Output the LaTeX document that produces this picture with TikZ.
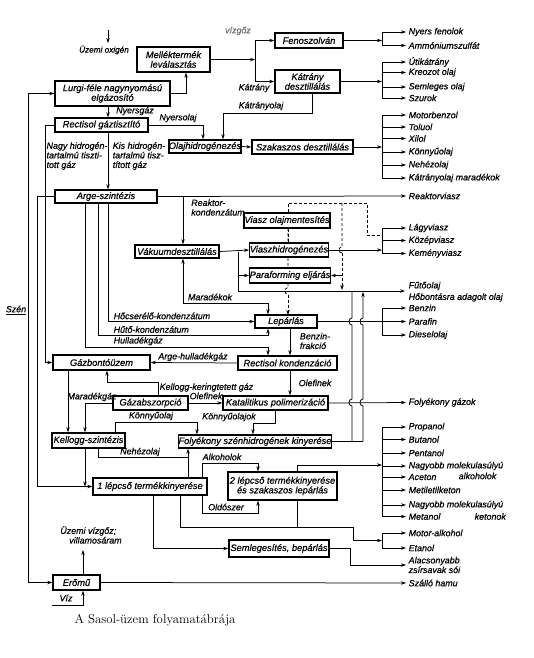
\documentclass[tikz,border=0pt]{standalone}
\usepackage{fontspec}
\newfontfamily\dfont{Liberation Sans}[FakeBold=0.6]
\usetikzlibrary{arrows.meta,calc}
\newcommand{\bxf}{\dfont\itshape\fontsize{9.3}{9.6}\selectfont}
\newcommand{\lbf}{\dfont\itshape\fontsize{8.9}{9.6}\selectfont}
\tikzset{
 box/.style={draw, line width=1.4pt, fill=white, inner sep=0pt, font=\bxf, align=center},
 lab/.style={font=\lbf, inner sep=0.5pt, align=left},
 outl/.style={lab, anchor=west},
 ln/.style={line width=0.75pt},
 arr/.style={ln, -{Stealth[length=5pt,width=3.4pt]}},
 dsh/.style={ln, dash pattern=on 3pt off 2pt},
 darr/.style={dsh, -{Stealth[length=5pt,width=3.4pt]}},
}
\begin{document}
\begin{tikzpicture}[x=1pt,y=-1pt]
\useasboundingbox (0,0) rectangle (534,658);
% ---------- connectors drawn first (boxes cover them) ----------
\draw[dsh] (288,228) -- (288,287.5) .. controls (284,287.5) and (284,294.5) .. (288,294.5);
\draw[darr] (288,294.5) -- (288,315);
% ---------- boxes ----------
\node[box, minimum width=73, minimum height=25] (mell) at (173.5,59.5) {Melléktermék\\leválasztás};
\node[box, minimum width=115, minimum height=25] (lurgi) at (112.5,93.5) {Lurgi-féle nagynyomású\\elgázosító};
\node[box, minimum width=93, minimum height=14] (rect) at (101.5,125) {Rectisol gáztisztító};
\node[box, minimum width=68, minimum height=15] (feno) at (309,40.5) {Fenoszolván};
\node[box, minimum width=65, minimum height=23] (katr) at (307.5,81.5) {Kátrány\\desztillálás};
\node[box, minimum width=70, minimum height=13] (olaj) at (205,146.5) {Olajhidrogénezés};
\node[box, minimum width=101, minimum height=14] (szak) at (302.5,147) {Szakaszos desztillálás};
\node[box, minimum width=102, minimum height=13] (arge) at (106,196.5) {Arge-szintézis};
\node[box, minimum width=84, minimum height=13] (vak) at (177,251.5) {Vákuumdesztillálás};
\node[box, minimum width=86, minimum height=15] (vom) at (287,220.5) {Viasz olajmentesítés};
\node[box, minimum width=78, minimum height=14] (vhid) at (289,250) {Viaszhidrogénezés};
\node[box, minimum width=80, minimum height=15] (para) at (290,275.5) {Paraforming eljárás};
\node[box, minimum width=62, minimum height=13] (lep) at (286,321.5) {Lepárlás};
\node[box, minimum width=97, minimum height=15] (gazb) at (101.5,362.5) {Gázbontóüzem};
\node[box, minimum width=99, minimum height=14] (rkond) at (287.5,363) {Rectisol kondenzáció};
\node[box, minimum width=75, minimum height=14] (gabs) at (150.5,403) {Gázabszorpció};
\node[box, minimum width=105, minimum height=14] (katal) at (275.5,403) {Katalitikus polimerizáció};
\node[box, minimum width=73, minimum height=15] (kell) at (88.5,440.5) {Kellogg-szintézis};
\node[box, minimum width=150, minimum height=13] (foly) at (255,441.5) {Folyékony szénhidrogének kinyerése};
\node[box, minimum width=114, minimum height=17] (l1) at (150,486.5) {1 lépcső termékkinyerése};
\node[box, minimum width=109, minimum height=28] (l2) at (282.5,486) {2 lépcső termékkinyerése\\és szakaszos lepárlás};
\node[box, minimum width=100, minimum height=17] (seml) at (279,548.5) {Semlegesítés, bepárlás};
\node[box, minimum width=47, minimum height=15] (erom) at (76.5,582.5) {Erőmű};
% ---------- top inputs ----------
\node[lab, font=\dfont\itshape\fontsize{8.2}{9}\selectfont] (oxi) at (104,50) {Üzemi oxigén};
\coordinate (oxt) at (108,30);
\draw[arr] (oxt) -- (108,43);
\node[lab, text=black!55] (vg) at (238,31) {vízgőz};
% lurgi -> mell
\draw[arr] (lurgi.east) -| ([xshift=12.5]mell.south);
% mell -> feno / katr
\coordinate (b1) at (255,59.5);
\draw[arr] (mell.east) -- (b1);
\draw[arr] (b1) |- (feno.west);
\draw[arr] (b1) |- (katr.west);
\node[lab] (lkat) at (254,88) {Kátrány};
% outputs feno
\coordinate (f1) at (382,40.5);
\draw[arr] (feno.east) -- (f1);
\node[outl] (o11) at (408,32) {Nyers fenolok};
\node[outl] (o12) at (408,45.5) {Ammóniumszulfát};
\draw[ln] (o11.west -| f1) -- (o12.west -| f1);
\draw[arr] (o11.west -| f1) -- ([xshift=-2]o11.west);
\draw[arr] (o12.west -| f1) -- ([xshift=-2]o12.west);
% outputs katr
\coordinate (f2) at (382,81.5);
\draw[arr] (katr.east) -- (f2);
\node[outl] (o21) at (408,62) {Útikátrány};
\node[outl] (o22) at (408,72.5) {Kreozot olaj};
\node[outl] (o23) at (408,87) {Semleges olaj};
\node[outl] (o24) at (408,98) {Szurok};
\draw[ln] (o21.west -| f2) -- (o24.west -| f2);
\foreach \o in {o21,o22,o23,o24} \draw[arr] (\o.west -| f2) -- ([xshift=-2]\o.west);
% katranyolaj
\draw[arr] ([xshift=4.5]katr.south) |- (223,113) -- ([xshift=18]olaj.north);
\node[lab] (lko) at (261,106) {Kátrányolaj};
% nyersolaj
\draw[arr] (rect.east) -| ([xshift=-2]olaj.north);
\node[lab] (lno) at (178,118) {Nyersolaj};
\draw[arr] (olaj.east) -- (szak.west);
% outputs szak
\coordinate (f3) at (382,147);
\draw[arr] (szak.east) -- (f3);
\node[outl] (o31) at (408,115) {Motorbenzol};
\node[outl] (o32) at (408,127) {Toluol};
\node[outl] (o33) at (408,138.5) {Xilol};
\node[outl] (o34) at (408,152) {Könnyűolaj};
\node[outl] (o35) at (408,165) {Nehézolaj};
\node[outl] (o36) at (408,178) {Kátrányolaj maradékok};
\draw[ln] (o31.west -| f3) -- (o36.west -| f3);
\foreach \o in {o31,o32,o33,o34,o35,o36} \draw[arr] (\o.west -| f3) -- ([xshift=-2]\o.west);
% lurgi -> rectisol
\draw[arr] ([xshift=-4.5]lurgi.south) -- ([xshift=6.5]rect.north);
\node[lab] (lng) at (135,111) {Nyersgáz};
% szen
\coordinate (sz1) at (28,93.5);
\coordinate (sz2) at (28,582.5);
\draw[arr] (sz1) -- (lurgi.west);
\draw[ln] (sz1) -- (sz2);
\draw[arr] (sz2) -- (erom.west);
\node[lab] (lsz) at (16,310) {\underline{Szén}};
% rectisol -> gazbonto
\draw[arr] (rect.west) -| (45,362.5) -- (gazb.west);
% rectisol -> arge
\draw[arr] ([xshift=6.5]rect.south) -- ([xshift=2]arge.north);
\node[lab, align=left] (lnh) at (77,156) {Nagy hidrogén-\\tartalmú tiszti-\\tott gáz};
\node[lab, align=left] (lkh) at (139,156) {Kis hidrogén-\\tartalmú tisz-\\tított gáz};
% reaktorviasz
\node[outl] (orv) at (408,196) {Reaktorviasz};
\draw[arr] (arge.east) -- ([xshift=-2]orv.west);
\draw[arr] (183,196) -- ([xshift=6]vak.north);
\node[lab] (lrk) at (218,207.5) {Reaktor-\\kondenzátum};
% arge -> 1 lepcso
\draw[arr] (arge.west) -| (37,486.5) -- (l1.west);
% arge condensates
\draw[arr] ([xshift=2]arge.south) |- (lep.west);
\node[lab, anchor=south west] (lhc) at (113,320) {Hőcserélő-kondenzátum};
\draw[arr] ([xshift=-8]arge.south) |- (268,335) -- ([xshift=-18]lep.south);
\node[lab, anchor=south west] (lhk) at (113,333.5) {Hűtő-kondenzátum};
\draw[arr] ([xshift=-21]arge.south) |- (268,347) -- ([xshift=-19.5]rkond.north);
\node[lab, anchor=south west] (lhg) at (113,346) {Hulladékgáz};
% vakuum
\draw[arr] (vak.east) -- (vhid.west);
\draw[arr] (238,251.5) |- (para.west);
\draw[ln] (238,275.5) -- (238,291);
\node[outl] (ofu) at (408,286) {Fűtőolaj};
\node[outl] (oho) at (408,297.5) {Hőbontásra adagolt olaj};
\draw[arr] (238,291) -- (405,291);
% maradekok
\draw[arr] (268,303) -| ([xshift=-18]lep.north);
\draw[arr] (183,303) -- ([xshift=6]vak.south);
\draw[ln] (183,303) -- (268,303);
\node[lab] (lma) at (210,297) {Maradékok};
% dashed wax
\draw[dsh] ([xshift=1]vom.north) |- (367,203) |- (382,235);
\draw[dsh] (342,203) -- (342,247) .. controls (338,247) and (338,253) .. (342,253);
\draw[darr] (342,253) -- (342,290);
\draw[dsh] ([xshift=1]vom.south) -- ([xshift=-1]vhid.north);
\draw[arr] (342,275.5) -- (para.east);
% wax outputs
\coordinate (f4) at (382,250);
\draw[arr] (vhid.east) -- (f4);
\node[outl] (o41) at (408,228) {Lágyviasz};
\node[outl] (o42) at (408,240.5) {Középviasz};
\node[outl] (o43) at (408,253.5) {Keményviasz};
\draw[ln] (o41.west -| f4) -- (o43.west -| f4);
\foreach \o in {o41,o42,o43} \draw[arr] (\o.west -| f4) -- ([xshift=-2]\o.west);
% lepárlás outputs
\coordinate (f5) at (382,321.5);
\draw[ln] (lep.east) -- (f5);
\node[outl] (o51) at (408,308) {Benzin};
\node[outl] (o52) at (408,321.5) {Parafin};
\node[outl] (o53) at (408,335) {Dieselolaj};
\draw[ln] (o51.west -| f5) -- (o53.west -| f5);
\foreach \o in {o51,o52,o53} \draw[arr] (\o.west -| f5) -- ([xshift=-2]\o.west);
% lep -> rkond -> katal
\draw[arr] ([xshift=4]lep.south) -- ([xshift=2.5]rkond.north);
\node[lab] (lbf) at (315,341) {Benzin-\\frakció};
\draw[arr] ([xshift=2.5]rkond.south) -- ([xshift=14.5]katal.north);
\node[lab] (lol) at (315,383) {Olefinek};
\draw[arr] (rkond.west) -- (gazb.east);
\node[lab] (lah) at (193,357) {Arge-hulladékgáz};
% gazabszorpcio
\draw[arr] ([xshift=7.5]gabs.north) |- (107,382) -- ([xshift=5.5]gazb.south);
\node[lab, anchor=west] (lkg) at (159,387.5) {Kellogg-keringtetett gáz};
\draw[arr] (gabs.east) -- (katal.west);
\node[lab] (lol2) at (206,396) {Olefinek};
\draw[arr] ([xshift=-33.5]gazb.south) -- ([xshift=-20.5]kell.north);
\node[lab] (lmg) at (92,397) {Maradékgáz};
\draw[arr] (gabs.west) -| ([xshift=-3.5]kell.north);
\draw[arr] ([xshift=26.5]kell.north) |- (197,422) -- ([xshift=-58]foly.north);
\node[lab] (lko1) at (151,416) {Könnyűolaj};
\draw[arr] ([xshift=-0.5]katal.south) |- (253,423) -- ([xshift=-2]foly.north);
\node[lab] (lko2) at (229,417) {Könnyűolajok};
\draw[ln] ([xshift=9.5]kell.south) |- (188,457);
\node[lab] (lnz) at (140,452) {Nehézolaj};
\draw[arr] ([xshift=38]l1.north) -- ([xshift=-67]foly.south);
\draw[arr] ([xshift=-3.5]kell.south) -- (85,486.5);
% folyekony gazok
\node[outl] (ofg) at (408,402.5) {Folyékony gázok};
\draw[arr] (katal.east) -- ([xshift=-2]ofg.west);
% right-hand return lines with hops
\draw[ln] (foly.east) -- (363,441.5);
\draw[ln] (352,441.5) -- (352,406) .. controls (348,406) and (348,399) .. (352,399)
  -- (352,325) .. controls (348,325) and (348,318) .. (352,318) -- (352,291);
\draw[arr] (363,441.5) -- (363,406) .. controls (359,406) and (359,399) .. (363,399)
  -- (363,325) .. controls (359,325) and (359,318) .. (363,318) -- (363,292);
% alkoholok
\draw[arr] ([xshift=52]l1.north) |- (258,463) -- ([xshift=-24.5]l2.north);
\node[lab] (lal) at (222,457) {Alkoholok};
\coordinate (f6) at (382,465);
\draw[arr] ([xshift=14.5]l2.north) |- (f6);
\node[outl] (o61) at (408,427) {Propanol};
\node[outl] (o62) at (408,439.5) {Butanol};
\node[outl] (o63) at (408,453) {Pentanol};
\node[outl] (o64) at (408,466) {Nagyobb molekulasúlyú};
\node[lab, anchor=west] (o64b) at (458,476) {alkoholok};
\node[outl] (o65) at (408,477) {Aceton};
\node[outl] (o66) at (408,490) {Metiletilketon};
\node[outl] (o67) at (408,505) {Nagyobb molekulasúlyú};
\node[outl] (o68) at (408,516.5) {Metanol};
\node[lab, anchor=west] (o68b) at (474,516.5) {ketonok};
\draw[ln] (o61.west -| f6) -- (o68.west -| f6);
\foreach \o in {o61,o62,o63,o64,o65,o66,o67,o68} \draw[arr] (\o.west -| f6) -- ([xshift=-2]\o.west);
% oldoszer
\draw[arr] ([xshift=52]l1.south) |- (258,513) -- ([xshift=-24.5]l2.south);
\node[lab] (lold) at (226,507) {Oldószer};
% motor-alkohol
\draw[ln] ([xshift=30]l1.south) |- (353,527) -- (353,540.5);
\draw[ln] ([xshift=14.5]l2.south) -- (297,527);
\coordinate (f7) at (382,540.5);
\draw[arr] (353,540.5) -- (f7);
\node[outl] (o71) at (408,533) {Motor-alkohol};
\node[outl] (o72) at (408,548) {Etanol};
\draw[ln] (o71.west -| f7) -- (o72.west -| f7);
\foreach \o in {o71,o72} \draw[arr] (\o.west -| f7) -- ([xshift=-2]\o.west);
% semlegesites
\draw[arr] ([xshift=3]l1.south) |- (seml.west);
\node[outl] (o81) at (408,565) {Alacsonyabb\\zsírsavak sói};
\draw[arr] (seml.east) -| (350,565) -- ([xshift=-2]o81.west);
% eromu
\node[outl] (o91) at (408,583) {Szálló hamu};
\draw[arr] (erom.east) -- ([xshift=-2]o91.west);
\draw[arr] ([xshift=6.5]erom.north) -- (83,550);
\node[lab] (lvg) at (91,535) {Üzemi vízgőz;\\\hspace{1em}villamosáram};
\coordinate (viz) at (52,605);
\draw[arr] (viz) -| ([xshift=6.5]erom.south);
\node[lab] (lviz) at (66,598) {Víz};
% caption
\node[font=\fontsize{12.8}{14}\selectfont, anchor=west] (cap) at (71,620) {A Sasol-üzem folyamatábrája};
\end{tikzpicture}
\end{document}
